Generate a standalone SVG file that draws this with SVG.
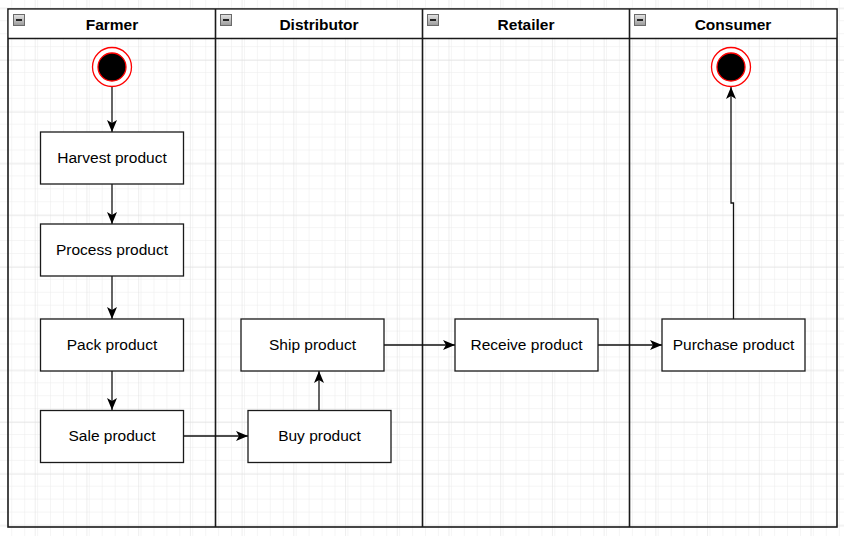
<svg xmlns="http://www.w3.org/2000/svg" width="844" height="536" viewBox="0 0 844 536">
  <defs>
    <pattern id="minor" x="-0.7" y="8.3" width="12.93" height="12.93" patternUnits="userSpaceOnUse">
      <path d="M12.93,0 V12.93 M0,12.93 H12.93" fill="none" stroke="#ebebeb" stroke-width="1"/>
    </pattern>
    <pattern id="major" x="-17" y="8.3" width="51.72" height="51.72" patternUnits="userSpaceOnUse">
      <path d="M0,0 V51.72 M0,0 H51.72" fill="none" stroke="#dedede" stroke-width="1"/>
    </pattern>
    <linearGradient id="iconGrad" x1="0" y1="0" x2="0" y2="1">
      <stop offset="0" stop-color="#e4e4e4"/>
      <stop offset="1" stop-color="#9a9a9a"/>
    </linearGradient>
    <marker id="arrow" viewBox="0 0 12 10" refX="12" refY="5" markerWidth="12" markerHeight="10" markerUnits="userSpaceOnUse" orient="auto">
      <path d="M0,0 L12,5 L0,10 L3,5 Z" fill="#000"/>
    </marker>
    <g id="collapse">
      <rect x="0" y="0" width="11" height="11" fill="url(#iconGrad)" stroke="#6a6a6a" stroke-width="1"/>
      <rect x="2.5" y="4.5" width="6" height="2" fill="#222"/>
    </g>
  </defs>
  <style>
    .lane { fill: none; stroke: #1a1a1a; stroke-width: 1.6; }
    .node rect { fill: #fff; stroke: #1a1a1a; stroke-width: 1.3; }
    .label { font-family: "Liberation Sans", Arial, sans-serif; font-size: 15.5px; fill: #000; text-anchor: middle; dominant-baseline: central; }
    .hdr { font-family: "Liberation Sans", Arial, sans-serif; font-size: 15.5px; font-weight: bold; fill: #000; text-anchor: middle; dominant-baseline: central; }
    .edge { fill: none; stroke: #111; stroke-width: 1.3; marker-end: url(#arrow); }
  </style>

  <rect width="844" height="536" fill="#fff"/>
  <rect width="844" height="536" fill="url(#minor)"/>
  <rect width="844" height="536" fill="url(#major)"/>

  <g id="pool">
    <rect x="8" y="9" width="829" height="518" fill="none" stroke="#1a1a1a" stroke-width="1.6"/>
    <rect x="8.8" y="9.8" width="827.4" height="28" fill="#fff"/>
    <line x1="8" y1="38.5" x2="837" y2="38.5" class="lane"/>
    <line x1="215.5" y1="9" x2="215.5" y2="527" class="lane"/>
    <line x1="422.5" y1="9" x2="422.5" y2="527" class="lane"/>
    <line x1="629.5" y1="9" x2="629.5" y2="527" class="lane"/>
  </g>

  <g id="lane-farmer">
    <use href="#collapse" x="13.5" y="14.5"/>
    <text class="hdr" x="112" y="24.5">Farmer</text>
  </g>
  <g id="lane-distributor">
    <use href="#collapse" x="220.5" y="14.5"/>
    <text class="hdr" x="319" y="24.5">Distributor</text>
  </g>
  <g id="lane-retailer">
    <use href="#collapse" x="427.5" y="14.5"/>
    <text class="hdr" x="526" y="24.5">Retailer</text>
  </g>
  <g id="lane-consumer">
    <use href="#collapse" x="634.5" y="14.5"/>
    <text class="hdr" x="733" y="24.5">Consumer</text>
  </g>

  <g id="connectors">
    <path class="edge" d="M112,87 V132"/>
    <path class="edge" d="M112,184 V224"/>
    <path class="edge" d="M112,276 V319"/>
    <path class="edge" d="M112,371 V410"/>
    <path class="edge" d="M183,436 H248"/>
    <path class="edge" d="M319,410 V371"/>
    <path class="edge" d="M384,345 H455"/>
    <path class="edge" d="M598,345 H662"/>
    <path class="edge" d="M733.5,319 V203 H731 V87"/>
  </g>

  <g id="start" class="node">
    <circle cx="112" cy="67" r="19.5" fill="#fff" stroke="#ff0000" stroke-width="1.3"/>
    <circle cx="112" cy="67" r="14" fill="#000" stroke="#ff0000" stroke-width="1.3"/>
  </g>
  <g id="end" class="node">
    <circle cx="731" cy="67" r="19.5" fill="#fff" stroke="#ff0000" stroke-width="1.3"/>
    <circle cx="731" cy="67" r="14" fill="#000" stroke="#ff0000" stroke-width="1.3"/>
  </g>

  <g id="harvest" class="node">
    <rect x="40.5" y="132" width="143" height="52"/>
    <text class="label" x="112" y="157">Harvest product</text>
  </g>
  <g id="process" class="node">
    <rect x="40.5" y="224" width="143" height="52"/>
    <text class="label" x="112" y="249">Process product</text>
  </g>
  <g id="pack" class="node">
    <rect x="40.5" y="319" width="143" height="52"/>
    <text class="label" x="112" y="344">Pack product</text>
  </g>
  <g id="sale" class="node">
    <rect x="40.5" y="410.5" width="143" height="52"/>
    <text class="label" x="112" y="435.5">Sale product</text>
  </g>
  <g id="ship" class="node">
    <rect x="241" y="319" width="143" height="52"/>
    <text class="label" x="312.5" y="344">Ship product</text>
  </g>
  <g id="buy" class="node">
    <rect x="248" y="410.5" width="143" height="52"/>
    <text class="label" x="319.5" y="435.5">Buy product</text>
  </g>
  <g id="receive" class="node">
    <rect x="455" y="319" width="143" height="52"/>
    <text class="label" x="526.5" y="344">Receive product</text>
  </g>
  <g id="purchase" class="node">
    <rect x="662" y="319" width="143" height="52"/>
    <text class="label" x="733.5" y="344">Purchase product</text>
  </g>
</svg>
